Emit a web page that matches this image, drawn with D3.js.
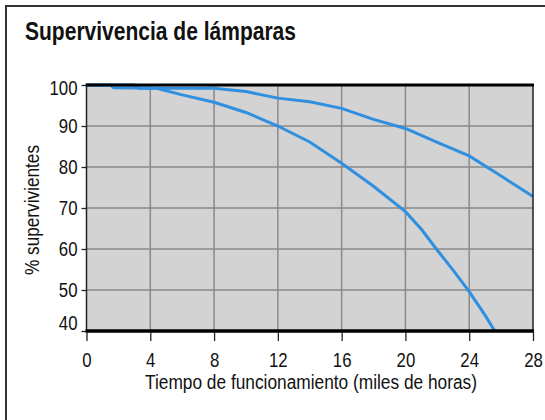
<!DOCTYPE html>
<html>
<head>
<meta charset="utf-8">
<script src="https://cdn.jsdelivr.net/npm/d3@7"></script>
<style>
  html, body { margin: 0; padding: 0; background: #fff; }
  svg { display: block; }
  text { font-family: "Liberation Sans Narrow", "Arial Narrow", "Liberation Sans", Arial, sans-serif; fill: #111; }
</style>
</head>
<body>
<svg id="chart" width="545" height="420"></svg>
<script>
const title = "Supervivencia de lámparas";
const xTitle = "Tiempo de funcionamiento (miles de horas)";
const yTitle = "% supervivientes";
const xTicks = [0, 4, 8, 12, 16, 20, 24, 28];
const yTicks = [40, 50, 60, 70, 80, 90, 100];

// series: upper (slower decline)
const upperX = [0, 3.0, 3.3, 8, 10, 12, 14, 16, 18, 20, 22, 24, 26, 28];
const upperY = [100, 100, 99.2, 99.2, 98.4, 96.8, 95.9, 94.3, 91.6, 89.4, 86.0, 82.7, 77.8, 72.8];
// series: lower (faster decline)
const lowerX = [0, 1.5, 1.7, 4.4, 6, 8, 10, 12, 14, 16, 18, 20, 21, 22, 23, 24, 25, 25.6];
const lowerY = [100, 100, 99.3, 99.2, 97.6, 95.8, 93.3, 90.0, 86.1, 80.9, 75.3, 69.1, 64.8, 59.7, 54.8, 49.6, 43.8, 40];

const svg = d3.select("#chart");
const L = 86.5, R = 533, T = 85, B = 331;
const NARROW = 0.82;

const x = d3.scaleLinear().domain([0, 28]).range([L, R]);
const y = d3.scaleLinear().domain([40, 100]).range([B, T]);

// outer frame
svg.append("rect").attr("x", 6).attr("y", 6).attr("width", 700).attr("height", 600)
  .attr("fill", "#fff").attr("stroke", "#333").attr("stroke-width", 2);

svg.append("text").attr("x", 25).attr("y", 40)
  .attr("font-size", 25.5).attr("font-weight", "bold")
  .attr("textLength", 271).attr("lengthAdjust", "spacingAndGlyphs").text(title);

// plot background
svg.append("rect").attr("x", L).attr("y", T).attr("width", R - L).attr("height", B - T)
  .attr("fill", "#d3d3d3");

// grid
const g = svg.append("g");
g.selectAll(".vg").data(xTicks.filter(d => d > 0 && d < 28)).join("line")
  .attr("x1", d => x(d)).attr("x2", d => x(d)).attr("y1", T).attr("y2", B)
  .attr("stroke", "#8a8a8a").attr("stroke-width", 1.5);
g.selectAll(".hg").data(yTicks.filter(d => d > 40 && d < 100)).join("line")
  .attr("x1", L).attr("x2", R).attr("y1", d => y(d)).attr("y2", d => y(d))
  .attr("stroke", "#8a8a8a").attr("stroke-width", 1.5);

// lines
const line = d3.line().x(d => x(d[0])).y(d => y(d[1]));
const blue = "#2f8fe0";
svg.append("path").datum(d3.zip(upperX, upperY)).attr("d", line)
  .attr("fill", "none").attr("stroke", blue).attr("stroke-width", 3);
svg.append("path").datum(d3.zip(lowerX, lowerY)).attr("d", line)
  .attr("fill", "none").attr("stroke", blue).attr("stroke-width", 3);

// frame lines
svg.append("line").attr("x1", L).attr("x2", L).attr("y1", T).attr("y2", B).attr("stroke", "#222").attr("stroke-width", 1.5);
svg.append("line").attr("x1", R).attr("x2", R).attr("y1", T).attr("y2", B).attr("stroke", "#222").attr("stroke-width", 1.5);
svg.append("line").attr("x1", L - 1).attr("x2", R + 1).attr("y1", T).attr("y2", T).attr("stroke", "#000").attr("stroke-width", 3);
svg.append("line").attr("x1", L - 1).attr("x2", R + 1).attr("y1", B).attr("y2", B).attr("stroke", "#000").attr("stroke-width", 3.5);

// axes
const xAxis = d3.axisBottom(x).tickValues(xTicks).tickSize(9).tickPadding(11);
const xg = svg.append("g").attr("transform", `translate(0,${B + 1})`).call(xAxis);
xg.select(".domain").remove();
xg.selectAll("line").attr("stroke", "#222").attr("stroke-width", 1.3);
xg.selectAll("text").attr("font-size", 20.5).attr("font-family", null).attr("fill", "#111")
  .attr("transform", `scale(${NARROW},1)`);

const yAxis = d3.axisLeft(y).tickValues(yTicks).tickSize(5).tickPadding(4);
const yg = svg.append("g").attr("transform", `translate(${L},0)`).call(yAxis);
yg.select(".domain").remove();
yg.selectAll("line").attr("stroke", "#222").attr("stroke-width", 1.3);
yg.selectAll("text").attr("font-size", 20.5).attr("font-family", null).attr("fill", "#111")
  .attr("x", -11)
  .attr("transform", `scale(${NARROW},1)`)
  .attr("dy", d => d === 40 ? "-0.05em" : d === 100 ? "0.48em" : "0.34em");

svg.append("text").attr("x", 145).attr("y", 389)
  .attr("font-size", 20).attr("textLength", 332).attr("lengthAdjust", "spacingAndGlyphs").text(xTitle);
svg.append("text").attr("transform", `translate(39,275) rotate(-90)`)
  .attr("font-size", 20).attr("textLength", 130).attr("lengthAdjust", "spacingAndGlyphs").text(yTitle);
</script>
</body>
</html>
